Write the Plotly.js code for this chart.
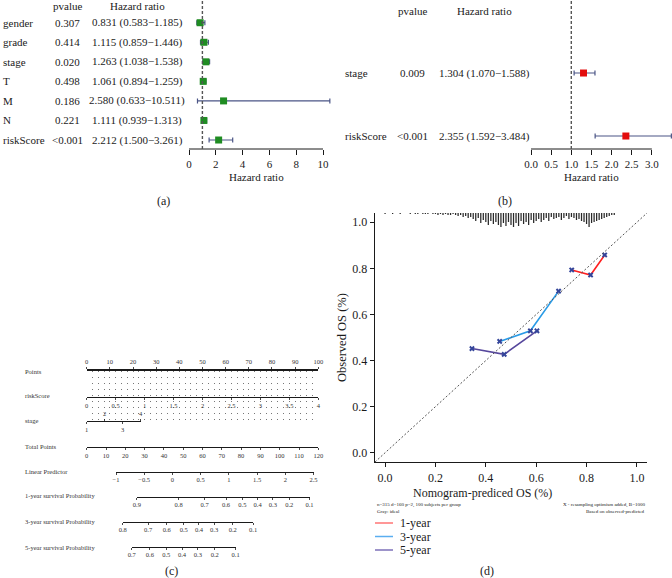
<!DOCTYPE html>
<html>
<head>
<meta charset="utf-8">
<script src="https://cdn.plot.ly/plotly-3.0.1.min.js"></script>
<style>
html, body { margin: 0; padding: 0; background: #fff; }
#chart { width: 672px; height: 578px; }
</style>
</head>
<body>
<div id="chart"></div>
<script>
// ---- (a) univariate Cox ----
const uniVars = ['gender', 'grade', 'stage', 'T', 'M', 'N', 'riskScore'];
const uniP = ['0.307', '0.414', '0.020', '0.498', '0.186', '0.221', '<0.001'];
const uniHR = [0.831, 1.115, 1.263, 1.061, 2.580, 1.111, 2.212];
const uniLo = [0.583, 0.859, 1.038, 0.894, 0.633, 0.939, 1.500];
const uniHi = [1.185, 1.446, 1.538, 1.259, 10.511, 1.313, 3.261];
const uniTicks = [0, 2, 4, 6, 8, 10];

// ---- (b) multivariate Cox ----
const multiVars = ['stage', 'riskScore'];
const multiP = ['0.009', '<0.001'];
const multiHR = [1.304, 2.355];
const multiLo = [1.070, 1.592];
const multiHi = [1.588, 3.484];
const multiTicks = [0, 0.5, 1, 1.5, 2, 2.5, 3];

// ---- (c) nomogram scales ----
const pointsTicks = [0, 10, 20, 30, 40, 50, 60, 70, 80, 90, 100];
const riskTicks = [0, 0.5, 1, 1.5, 2, 2.5, 3, 3.5, 4];
const stageBelow = [1, 3];
const stageAbove = [2, 4];
const totalTicks = [0, 10, 20, 30, 40, 50, 60, 70, 80, 90, 100, 110, 120];
const lpTicks = [-1, -0.5, 0, 0.5, 1, 1.5, 2, 2.5];
const surv1Labels = ['0.9', '0.8', '0.7', '0.6', '0.5', '0.4', '0.3', '0.2', '0.1'];
const surv1Pos = [-0.63, 0.11, 0.57, 0.95, 1.24, 1.51, 1.78, 2.07, 2.43];
const surv3Labels = ['0.8', '0.7', '0.6', '0.5', '0.4', '0.3', '0.2', '0.1'];
const surv3Pos = [-0.88, -0.43, -0.10, 0.20, 0.47, 0.74, 1.07, 1.43];
const surv5Labels = ['0.7', '0.6', '0.5', '0.4', '0.3', '0.2', '0.1'];
const surv5Pos = [-0.72, -0.40, -0.11, 0.17, 0.45, 0.75, 1.12];

// ---- (d) calibration ----
const cal1x = [0.741, 0.816, 0.872];
const cal1y = [0.793, 0.771, 0.858];
const cal3x = [0.455, 0.577, 0.689];
const cal3y = [0.483, 0.529, 0.701];
const cal5x = [0.345, 0.473, 0.603];
const cal5y = [0.452, 0.427, 0.529];
const calTicks = [0, 0.2, 0.4, 0.6, 0.8, 1.0];
// spike lengths (px) of the predicted-value histogram, bins of 0.01 from 0.00
const rugH = [1, 0, 0, 1, 0, 0, 1, 0, 0, 0, 1, 0, 1, 1, 0, 1, 1, 1, 0, 1,
              1, 2, 1, 2, 1, 2, 2, 1, 2, 3, 2, 4, 3, 5, 4, 6, 8, 5, 10, 7,
              9, 12, 8, 11, 9, 12, 14, 10, 13, 9, 12, 14, 10, 13, 8, 11, 9, 12, 7, 10,
              8, 6, 9, 7, 5, 8, 4, 6, 5, 4, 7, 5, 3, 6, 4, 5, 7, 6, 8, 9,
              11, 14, 10, 9, 8, 7, 6, 5, 4, 3, 2, 2];

const W = 672, H = 578;
const fx = p => p / W;
const fy = p => 1 - p / H;
const FONT = 'Liberation Serif, DejaVu Serif, serif';
const INK = '#1a1a1a';
const GREY = '#333';

const traces = [];
const annotations = [];
const shapes = [];

function addText(text, x, y, size, opts) {
    annotations.push(Object.assign({
        text: text, x: x, y: y, xref: 'paper', yref: 'paper',
        showarrow: false, font: { size: size, color: INK }, xanchor: 'center', yanchor: 'middle'
    }, opts || {}));
}

// ---------- forest plots ----------
function forest(vars, pv, hr, lo, hi, xa, ya, color, cols) {
    const n = vars.length;
    const rows = vars.map((_, i) => n - 1 - i);
    traces.push({
        type: 'scatter', mode: 'markers', x: hr, y: rows, xaxis: xa, yaxis: ya,
        marker: { symbol: 'square', size: 7, color: color },
        error_x: {
            type: 'data', symmetric: false,
            array: hi.map((h, i) => h - hr[i]),
            arrayminus: lo.map((l, i) => hr[i] - l),
            color: '#4b5586', thickness: 1.2, width: 2.5
        },
        cliponaxis: false, hoverinfo: 'skip', showlegend: false
    });
    vars.forEach((v, i) => {
        const yref = ya;
        addText(v, fx(cols.label), rows[i], 11, { yref: yref, xanchor: 'left' });
        addText(pv[i], fx(cols.p), rows[i], 11, { yref: yref });
        addText(hr[i].toFixed(3) + ' (' + lo[i].toFixed(3) + '\u2212' + hi[i].toFixed(3) + ')',
            fx(cols.hr), rows[i], 11, { yref: yref });
    });
    addText('pvalue', fx(cols.p), fy(cols.head), 11);
    addText('Hazard ratio', fx(cols.hr), fy(cols.head), 11);
}

forest(uniVars, uniP, uniHR, uniLo, uniHi, 'x', 'y', '#1f8c22', { label: 0.5, p: 67, hr: 137, head: 6 });
forest(multiVars, multiP, multiHR, multiLo, multiHi, 'x2', 'y2', '#e30d0d', { label: 343, p: 412, hr: 484, head: 11 });

// axis lines and reference lines of forest plots
shapes.push({ type: 'line', xref: 'x', yref: 'paper', x0: uniTicks[0], x1: uniTicks[uniTicks.length - 1],
    y0: fy(149), y1: fy(149), line: { color: INK, width: 1 } });
shapes.push({ type: 'line', xref: 'x', yref: 'paper', x0: 1, x1: 1, y0: fy(149), y1: fy(0),
    line: { color: '#555', width: 1.4, dash: '3px,2px' } });
shapes.push({ type: 'line', xref: 'x2', yref: 'paper', x0: multiTicks[0], x1: multiTicks[multiTicks.length - 1],
    y0: fy(149), y1: fy(149), line: { color: INK, width: 1 } });
shapes.push({ type: 'line', xref: 'x2', yref: 'paper', x0: 1, x1: 1, y0: fy(149), y1: fy(0),
    line: { color: '#555', width: 1.4, dash: '3px,2px' } });

addText('Hazard ratio', fx(256), fy(177), 11);
addText('Hazard ratio', fx(591), fy(177), 11);
addText('(a)', fx(163), fy(201), 12);
addText('(b)', fx(505), fy(201), 12);

// ---------- nomogram ----------
const nomoTop = 370.5, nomoBottom = 421;
const left = 86.7, right = 318.3;
const lpPx = v => 116 + (v + 1) / 3.5 * 197.5;

function scaleAxis(dom, range, pos, extra) {
    return Object.assign({
        domain: [fx(dom[0]), fx(dom[1])], range: range, anchor: 'free', position: fy(pos),
        showline: true, linecolor: INK, linewidth: 1, ticks: 'outside', ticklen: 2, tickwidth: 0.8,
        tickcolor: INK, tickfont: { size: 6.5, color: GREY, family: FONT }, showgrid: false,
        zeroline: false, tickmode: 'array', fixedrange: true
    }, extra);
}

const nomoAxes = {
    xaxis4: Object.assign(scaleAxis([left, right], [0, 100], nomoTop, {
        anchor: 'y4', side: 'top', tickvals: pointsTicks, linewidth: 1.6,
        showgrid: true, gridcolor: '#777', gridwidth: 1, griddash: '1px,5px',
        minor: { tickmode: 'linear', tick0: 0, dtick: 2.5, showgrid: true, gridcolor: '#777', gridwidth: 1, griddash: '1px,5px', ticks: '' }
    })),
    xaxis5: scaleAxis([left, right], [0, 4], 396.5, { tickvals: riskTicks, linewidth: 1.6 }),
    xaxis6: scaleAxis([left, left + (right - left) * 0.233], [1, 4], 420.5, { tickvals: stageBelow, linewidth: 1.6 }),
    xaxis7: scaleAxis([left, left + (right - left) * 0.233], [1, 4], 420.5, { tickvals: stageAbove, side: 'top', showline: false }),
    xaxis8: scaleAxis([left, right], [0, 120], 446.5, { tickvals: totalTicks, linewidth: 1.6 }),
    xaxis9: scaleAxis([lpPx(-1), lpPx(2.5)], [-1, 2.5], 471.5, { tickvals: lpTicks, ticktext: lpTicks.map(v => v < 0 ? '\u2212' + Math.abs(v) : String(v)) }),
    xaxis10: scaleAxis([lpPx(surv1Pos[0]), lpPx(surv1Pos[surv1Pos.length - 1])], [surv1Pos[0], surv1Pos[surv1Pos.length - 1]], 496.5, { tickvals: surv1Pos, ticktext: surv1Labels }),
    xaxis11: scaleAxis([lpPx(surv3Pos[0]), lpPx(surv3Pos[surv3Pos.length - 1])], [surv3Pos[0], surv3Pos[surv3Pos.length - 1]], 521.5, { tickvals: surv3Pos, ticktext: surv3Labels }),
    xaxis12: scaleAxis([lpPx(surv5Pos[0]), lpPx(surv5Pos[surv5Pos.length - 1])], [surv5Pos[0], surv5Pos[surv5Pos.length - 1]], 546.5, { tickvals: surv5Pos, ticktext: surv5Labels })
};
// invisible anchors so every scale gets its own subplot
Object.keys(nomoAxes).forEach(k => {
    traces.push({
        type: 'scatter', mode: 'markers', x: [nomoAxes[k].range[0]], y: [0.5],
        xaxis: 'x' + k.slice(5), yaxis: 'y4', marker: { opacity: 0, size: 1 },
        hoverinfo: 'skip', showlegend: false
    });
});

const nomoLabels = ['Points', 'riskScore', 'stage', 'Total Points', 'Linear Predictor',
    '1-year survival Probability', '3-year survival Probability', '5-year survival Probability'];
const nomoLabelY = [371, 395.5, 420, 446, 471, 495.5, 521.5, 547];
nomoLabels.forEach((t, i) => addText(t, fx(23), fy(nomoLabelY[i]), 6.5, { xanchor: 'left', font: { size: 6.5, color: GREY } }));
addText('(c)', fx(171), fy(570.5), 12);

// ---------- calibration ----------
const calRange = [-0.04, 1.04];
traces.push({
    type: 'bar', x: rugH.map((_, i) => i * 0.01), y: rugH.map(h => -h / 230.5), base: calRange[1],
    width: 0.005, xaxis: 'x3', yaxis: 'y3', marker: { color: '#2a2a2a', line: { width: 0 } },
    hoverinfo: 'skip', showlegend: false
});
shapes.push({ type: 'line', xref: 'x3', yref: 'y3', x0: calRange[0], y0: calRange[0], x1: calRange[1], y1: calRange[1],
    line: { color: '#555', width: 1, dash: '2px,2px' } });

const calSeries = [
    { name: '1-year', x: cal1x, y: cal1y, color: '#ff2020', legend: '#ff7474' },
    { name: '3-year', x: cal3x, y: cal3y, color: '#2a9be6', legend: '#5aaef0' },
    { name: '5-year', x: cal5x, y: cal5y, color: '#56479c', legend: '#7d70b8' }
];
calSeries.forEach((s, i) => {
    traces.push({
        type: 'scatter', mode: 'lines+markers', x: s.x, y: s.y, xaxis: 'x3', yaxis: 'y3',
        line: { color: s.color, width: 1.6 },
        marker: { symbol: 'x', size: 5, color: '#34459a' },
        hoverinfo: 'skip', showlegend: false
    });
    const ly = 523 + i * 13.5;
    shapes.push({ type: 'line', xref: 'paper', yref: 'paper', x0: fx(375), x1: fx(393), y0: fy(ly), y1: fy(ly),
        line: { color: s.legend, width: 1.5 } });
    addText(s.name, fx(398), fy(ly), 12, { xanchor: 'left' });
});

addText('Nomogram-prediced OS (%)', fx(482), fy(493), 12);
addText('Observed OS (%)', fx(342), fy(338), 12.5, { textangle: -90 });
addText('n=315 d=160 p=2, 100 subjects per group', fx(375), fy(505), 5, { xanchor: 'left' });
addText('Gray: ideal', fx(375), fy(511), 5, { xanchor: 'left' });
addText('X - resampling optimism added, B=1000', fx(647), fy(505), 5, { xanchor: 'right' });
addText('Based on observed-predicted', fx(647), fy(511), 5, { xanchor: 'right' });
addText('(d)', fx(487), fy(570.5), 12);

const layout = Object.assign({
    width: W, height: H,
    margin: { l: 0, r: 0, t: 0, b: 0 },
    paper_bgcolor: '#fff', plot_bgcolor: 'rgba(0,0,0,0)',
    font: { family: FONT, color: INK, size: 11 },
    showlegend: false, barmode: 'overlay',
    xaxis: {
        domain: [fx(189), fx(189 + 10.8 * 13.4)], range: [0, 10.8], anchor: 'y',
        showline: false, ticks: 'outside', ticklen: 5, tickwidth: 1, tickcolor: INK,
        tickmode: 'array', tickvals: uniTicks, tickfont: { size: 11 }, showgrid: false, zeroline: false
    },
    yaxis: { domain: [fy(149), fy(2)], range: [-0.46, 7.06], anchor: 'x', visible: false },
    xaxis2: {
        domain: [fx(531), 1], range: [0, 3.5], anchor: 'y2',
        showline: false, ticks: 'outside', ticklen: 5, tickwidth: 1, tickcolor: INK,
        tickmode: 'array', tickvals: multiTicks, tickformat: '.1f', tickfont: { size: 11 }, showgrid: false, zeroline: false
    },
    yaxis2: { domain: [fy(149), fy(2)], range: [-0.206, 2.127], anchor: 'x2', visible: false },
    xaxis3: {
        domain: [fx(375), fx(647)], range: calRange, anchor: 'y3',
        showline: true, linecolor: INK, linewidth: 1.3, ticks: 'outside', ticklen: 4, tickcolor: INK,
        tickmode: 'array', tickvals: calTicks, tickformat: '.1f', tickfont: { size: 12 }, showgrid: false, zeroline: false
    },
    yaxis3: {
        domain: [fy(462), fy(213)], range: calRange, anchor: 'x3',
        showline: true, linecolor: INK, linewidth: 1.3, ticks: 'outside', ticklen: 4, tickcolor: INK,
        tickmode: 'array', tickvals: calTicks, tickformat: '.1f', tickfont: { size: 12 }, showgrid: false, zeroline: false
    },
    yaxis4: { domain: [fy(nomoBottom), fy(nomoTop)], range: [0, 1], anchor: 'x4', visible: false },
    annotations: annotations,
    shapes: shapes
}, nomoAxes);

Plotly.newPlot('chart', traces, layout, { staticPlot: true, displayModeBar: false });
</script>
</body>
</html>
